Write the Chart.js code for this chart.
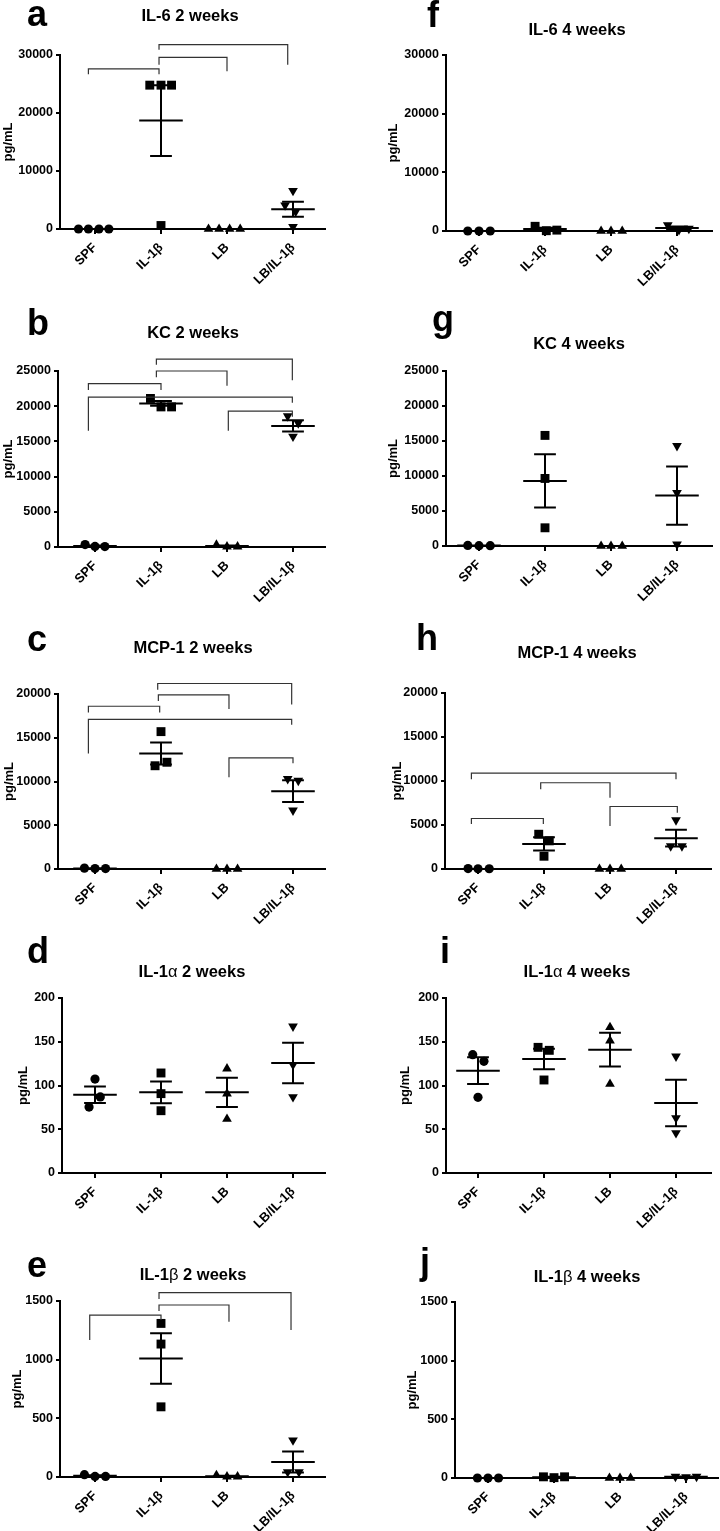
<!DOCTYPE html>
<html>
<head>
<meta charset="utf-8">
<script src="https://cdn.jsdelivr.net/npm/chart.js@4.4.0/dist/chart.umd.min.js"></script>
<style>
body { margin: 0; width: 720px; height: 1531px; background: #fff; position: relative; overflow: hidden; font-family: 'Liberation Sans', Arial, sans-serif; color: #000; }
canvas { position: absolute; }
.letter { position: absolute; font-weight: bold; font-size: 36px; line-height: 1; }
.title { position: absolute; font-weight: bold; font-size: 16.5px; line-height: 1; white-space: nowrap; transform: translate(-50%, -50%); }
.title span { font-weight: normal; }
</style>
</head>
<body>
<script>
var groups = ['SPF', 'IL-1β', 'LB', 'LB/IL-1β'];

// brackets are [from, from drop, to, to drop, top]

// a - IL-6 2 weeks
var il6W2 = [[0, 0, 0, 0], [24800, 24800, 24800, 600], [0, 0, 0, 0], [6600, 4100, 3000, 400]];
var il6W2Mean = [0, 18700, 0, 3400];
var il6W2Sem = [0, 6100, 0, 1300];
var il6W2Sig = [[-0.1, 26700, 0.97, 26700, 27600], [0.97, 28300, 2, 27200, 29600], [0.97, 30900, 2.92, 28300, 31800]];

// b - KC 2 weeks
var kcW2 = [[350, 80, 60], [21100, 19900, 19900], [300, 50, 40], [18600, 17600, 15700]];
var kcW2Mean = [150, 20400, 130, 17200];
var kcW2Sem = [80, 350, 80, 800];
var kcW2Sig = [[-0.1, 22300, 1, 22300, 23200], [0.93, 24100, 2, 22900, 25000], [0.93, 25900, 2.99, 23700, 26700],
    [-0.1, 16500, 2.99, 20500, 21300], [2.02, 16500, 2.99, 18500, 19300]];

// c - MCP-1 2 weeks
var mcpW2 = [[100, 50, 50], [15700, 11800, 12200], [0, 0, 0], [10300, 10100, 6700]];
var mcpW2Mean = [70, 13200, 0, 8900];
var mcpW2Sem = [20, 1250, 0, 1250];
var mcpW2Sig = [[-0.1, 17900, 0.98, 17900, 18600], [0.96, 19200, 2.03, 18300, 19900], [0.95, 20500, 2.98, 18800, 21200],
    [-0.1, 13200, 2.98, 16500, 17100], [2.03, 10500, 3, 12100, 12700]];

// d - IL-1a 2 weeks
var il1aW2 = [[107.4, 86.9, 75.4], [114.3, 90.7, 71.2], [119.2, 90.7, 61.7], [167.6, 123.8, 86.9]];
var il1aW2Mean = [89.5, 92.2, 92.2, 125.7];
var il1aW2Sem = [9.5, 12.4, 16.8, 23.2];

// e - IL-1b 2 weeks
var il1bW2 = [[20, 5, 5], [1309, 1133, 598], [15, 3, 3], [313, 43, 43]];
var il1bW2Mean = [10, 1010, 6, 128];
var il1bW2Sem = [5, 215, 4, 90];
var il1bW2Sig = [[-0.08, 1167, 1, 1338, 1380], [0.97, 1415, 2.03, 1324, 1466], [0.97, 1517, 2.97, 1252, 1571]];

// f - IL-6 4 weeks
var il6W4 = [[0, 0, 0], [800, 50, 150], [0, 0, 0], [1000, 200, 400]];
var il6W4Mean = [0, 330, 0, 530];
var il6W4Sem = [0, 235, 0, 240];

// g - KC 4 weeks
var kcW4 = [[80, 50, 50], [15800, 9650, 2600], [0, 0, 0], [14300, 7600, 240]];
var kcW4Mean = [60, 9300, 0, 7200];
var kcW4Sem = [10, 3800, 0, 4150];

// h - MCP-1 4 weeks
var mcpW4 = [[50, 30, 30], [3950, 3200, 1450], [0, 0, 0], [5550, 2600, 2600]];
var mcpW4Mean = [0, 2850, 0, 3500];
var mcpW4Sem = [0, 750, 0, 950];
var mcpW4Sig = [[-0.1, 5100, 0.99, 5100, 5740], [0.95, 9050, 2, 8100, 9800], [-0.1, 10200, 3, 10200, 10900], [2, 4900, 3.02, 6400, 7100]];

// i - IL-1a 4 weeks
var il1aW4 = [[135.2, 127.6, 86.5], [143.6, 140.2, 106.3], [166.5, 151.2, 101.7], [133.3, 62.9, 45.7]];
var il1aW4Mean = [117, 130.3, 141, 80];
var il1aW4Sem = [15.3, 11.8, 19.2, 26.7];

// j - IL-1b 4 weeks
var il1bW4 = [[0, 0, 0], [10, 3, 10], [0, 0, 0], [12, 8, 12]];
var il1bW4Mean = [0, 7, 0, 10];
var il1bW4Sem = [0, 3, 0, 2];

// horizontal spread of the symbols inside each group (category units)
var spread3 = [[-0.16, 0, 0.16], [-0.16, 0, 0.16], [-0.16, 0, 0.16], [-0.16, 0, 0.16]];

var font = "'Liberation Sans', Arial, sans-serif";
var symbols = ['circle', 'rect', 'triangle', 'triangle'];
var symbolRot = [0, 0, 0, 180];
var symbolSize = [4.6, 6.3, 5.6, 5.6];

var panels = [
    {letter: 'a', title: 'IL-6 2 weeks', pts: il6W2, mean: il6W2Mean, sem: il6W2Sem, sig: il6W2Sig,
        jit: [[-0.25, -0.1, 0.06, 0.21], [-0.17, 0, 0.16, 0], [-0.28, -0.12, 0.04, 0.2], [0, -0.12, 0.04, 0]],
        yMax: 30000, yStep: 10000, L: 60, R: 325, top: 55, bottom: 229, c0: 95, ylab: 8, lx: 27, ly: -4.5, tx: 190, ty: 15},
    {letter: 'b', title: 'KC 2 weeks', pts: kcW2, mean: kcW2Mean, sem: kcW2Sem, sig: kcW2Sig,
        jit: [[-0.15, 0, 0.15], [-0.16, 0, 0.16], [-0.16, 0, 0.16], [-0.08, 0.08, 0]],
        yMax: 25000, yStep: 5000, L: 58, R: 325, top: 371, bottom: 547, c0: 95, ylab: 8, lx: 27, ly: 304.5, tx: 193, ty: 332},
    {letter: 'c', title: 'MCP-1 2 weeks', pts: mcpW2, mean: mcpW2Mean, sem: mcpW2Sem, sig: mcpW2Sig,
        jit: [[-0.16, 0, 0.16], [0, -0.09, 0.09], [-0.16, 0, 0.16], [-0.08, 0.08, 0]],
        yMax: 20000, yStep: 5000, L: 58, R: 325, top: 694, bottom: 869, c0: 95, ylab: 9, lx: 27, ly: 620.5, tx: 193, ty: 647},
    {letter: 'd', title: 'IL-1<span>α</span> 2 weeks', pts: il1aW2, mean: il1aW2Mean, sem: il1aW2Sem, sig: [],
        jit: [[0, 0.08, -0.09], [0, 0, 0], [0, 0, 0], [0, 0, 0]],
        yMax: 200, yStep: 50, L: 62, R: 325, top: 998, bottom: 1173, c0: 95, ylab: 23, lx: 27, ly: 932.5, tx: 192, ty: 971},
    {letter: 'e', title: 'IL-1<span>β</span> 2 weeks', pts: il1bW2, mean: il1bW2Mean, sem: il1bW2Sem, sig: il1bW2Sig,
        jit: [[-0.16, 0, 0.16], [0, 0, 0], [-0.16, 0, 0.16], [0, -0.08, 0.09]],
        yMax: 1500, yStep: 500, L: 60, R: 325, top: 1301, bottom: 1477, c0: 95, ylab: 17, lx: 27, ly: 1246.5, tx: 193, ty: 1274},
    {letter: 'f', title: 'IL-6 4 weeks', pts: il6W4, mean: il6W4Mean, sem: il6W4Sem, sig: [],
        jit: [[-0.17, 0, 0.17], [-0.15, 0.02, 0.18], [-0.15, 0, 0.17], [-0.14, 0.03, 0.18]],
        yMax: 30000, yStep: 10000, L: 446, R: 712, top: 55, bottom: 231, c0: 479, ylab: 393, lx: 427, ly: -3.5, tx: 577, ty: 29},
    {letter: 'g', title: 'KC 4 weeks', pts: kcW4, mean: kcW4Mean, sem: kcW4Sem, sig: [],
        jit: [[-0.17, 0, 0.17], [0, 0, 0], [-0.15, 0, 0.17], [0, 0, 0]],
        yMax: 25000, yStep: 5000, L: 446, R: 712, top: 371, bottom: 546, c0: 479, ylab: 393, lx: 432, ly: 300.5, tx: 579, ty: 343},
    {letter: 'h', title: 'MCP-1 4 weeks', pts: mcpW4, mean: mcpW4Mean, sem: mcpW4Sem, sig: mcpW4Sig,
        jit: [[-0.15, 0, 0.17], [-0.08, 0.08, 0], [-0.16, 0, 0.17], [0, -0.08, 0.09]],
        yMax: 20000, yStep: 5000, L: 445, R: 711, top: 693, bottom: 869, c0: 478, ylab: 397, lx: 416, ly: 619.5, tx: 577, ty: 652},
    {letter: 'i', title: 'IL-1<span>α</span> 4 weeks', pts: il1aW4, mean: il1aW4Mean, sem: il1aW4Sem, sig: [],
        jit: [[-0.08, 0.09, 0], [-0.09, 0.08, 0], [0, 0, 0], [0, 0, 0]],
        yMax: 200, yStep: 50, L: 446, R: 711, top: 998, bottom: 1173, c0: 478, ylab: 405, lx: 440, ly: 932.5, tx: 577, ty: 971},
    {letter: 'j', title: 'IL-1<span>β</span> 4 weeks', pts: il1bW4, mean: il1bW4Mean, sem: il1bW4Sem, sig: [],
        jit: spread3,
        yMax: 1500, yStep: 500, L: 455, R: 718, top: 1302, bottom: 1478, c0: 488, ylab: 412, lx: 420, ly: 1244, tx: 587, ty: 1276}
];

var STEP = 66;

panels.forEach(function (p) {
    var w = p.R - p.L + 90;
    var h = p.bottom - p.top + 160;
    var cv = document.createElement('canvas');
    cv.width = w;
    cv.height = h;
    cv.style.left = (p.L - 70) + 'px';
    cv.style.top = (p.top - 70) + 'px';
    cv.style.width = w + 'px';
    cv.style.height = h + 'px';
    document.body.appendChild(cv);

    var lt = document.createElement('div');
    lt.className = 'letter';
    lt.textContent = p.letter;
    lt.style.left = p.lx + 'px';
    lt.style.top = p.ly + 'px';
    document.body.appendChild(lt);

    var tt = document.createElement('div');
    tt.className = 'title';
    tt.innerHTML = p.title;
    tt.style.left = p.tx + 'px';
    tt.style.top = p.ty + 'px';
    document.body.appendChild(tt);

    // mean line, SEM whisker and caps
    var bars = [];
    p.mean.forEach(function (m, i) {
        var s = p.sem[i];
        bars.push({x: i - 0.33, y: m}, {x: i + 0.33, y: m}, {x: i, y: null},
            {x: i, y: m - s}, {x: i, y: m + s}, {x: i, y: null},
            {x: i - 0.165, y: m + s}, {x: i + 0.165, y: m + s}, {x: i, y: null},
            {x: i - 0.165, y: m - s}, {x: i + 0.165, y: m - s}, {x: i, y: null});
    });

    var brackets = [];
    p.sig.forEach(function (b) {
        brackets.push({x: b[0], y: b[1]}, {x: b[0], y: b[4]}, {x: b[2], y: b[4]}, {x: b[2], y: b[3]}, {x: b[0], y: null});
    });

    var datasets = [
        {data: bars, showLine: true, borderColor: '#000', borderWidth: 2, pointRadius: 0, clip: false, spanGaps: false},
        {data: brackets, showLine: true, borderColor: '#333', borderWidth: 1.2, pointRadius: 0, clip: false, spanGaps: false}
    ];
    p.pts.forEach(function (vals, g) {
        datasets.push({
            data: vals.map(function (v, k) { return {x: g + p.jit[g][k], y: v}; }),
            pointStyle: symbols[g],
            pointRotation: symbolRot[g],
            pointRadius: symbolSize[g],
            pointBackgroundColor: '#000',
            pointBorderColor: '#000',
            pointBorderWidth: 0,
            clip: false
        });
    });

    new Chart(cv, {
        type: 'scatter',
        data: {datasets: datasets},
        options: {
            responsive: false,
            animation: false,
            events: [],
            layout: {padding: {left: 0, top: 70, right: 20, bottom: 0}},
            plugins: {legend: {display: false}, tooltip: {enabled: false}},
            scales: {
                x: {
                    type: 'linear',
                    min: (p.L - p.c0) / STEP,
                    max: (p.R - p.c0) / STEP,
                    afterBuildTicks: function (scale) {
                        scale.ticks = [0, 1, 2, 3].map(function (v) { return {value: v}; });
                    },
                    afterFit: function (scale) { scale.height = 90; },
                    grid: {drawOnChartArea: false, drawTicks: true, tickLength: 5, lineWidth: 2, color: '#000'},
                    border: {display: true, color: '#000', width: 2},
                    ticks: {
                        autoSkip: false, minRotation: 45, maxRotation: 45, padding: 6, color: '#000',
                        font: {family: font, weight: 'bold', size: 13},
                        callback: function (v) { return groups[v]; }
                    }
                },
                y: {
                    min: 0,
                    max: p.yMax,
                    afterFit: function (scale) { scale.width = 70; },
                    grid: {drawOnChartArea: false, drawTicks: true, tickLength: 4, lineWidth: 2, color: '#000'},
                    border: {display: true, color: '#000', width: 2},
                    ticks: {
                        stepSize: p.yStep, padding: 3, color: '#000',
                        font: {family: font, weight: 'bold', size: 12.5},
                        callback: function (v) { return String(v); }
                    },
                    title: {
                        display: true, text: 'pg/mL', color: '#000',
                        font: {family: font, weight: 'bold', size: 13},
                        padding: {top: p.ylab - (p.L - 70) - 7.8, bottom: 0}
                    }
                }
            }
        }
    });
});
</script>
</body>
</html>
